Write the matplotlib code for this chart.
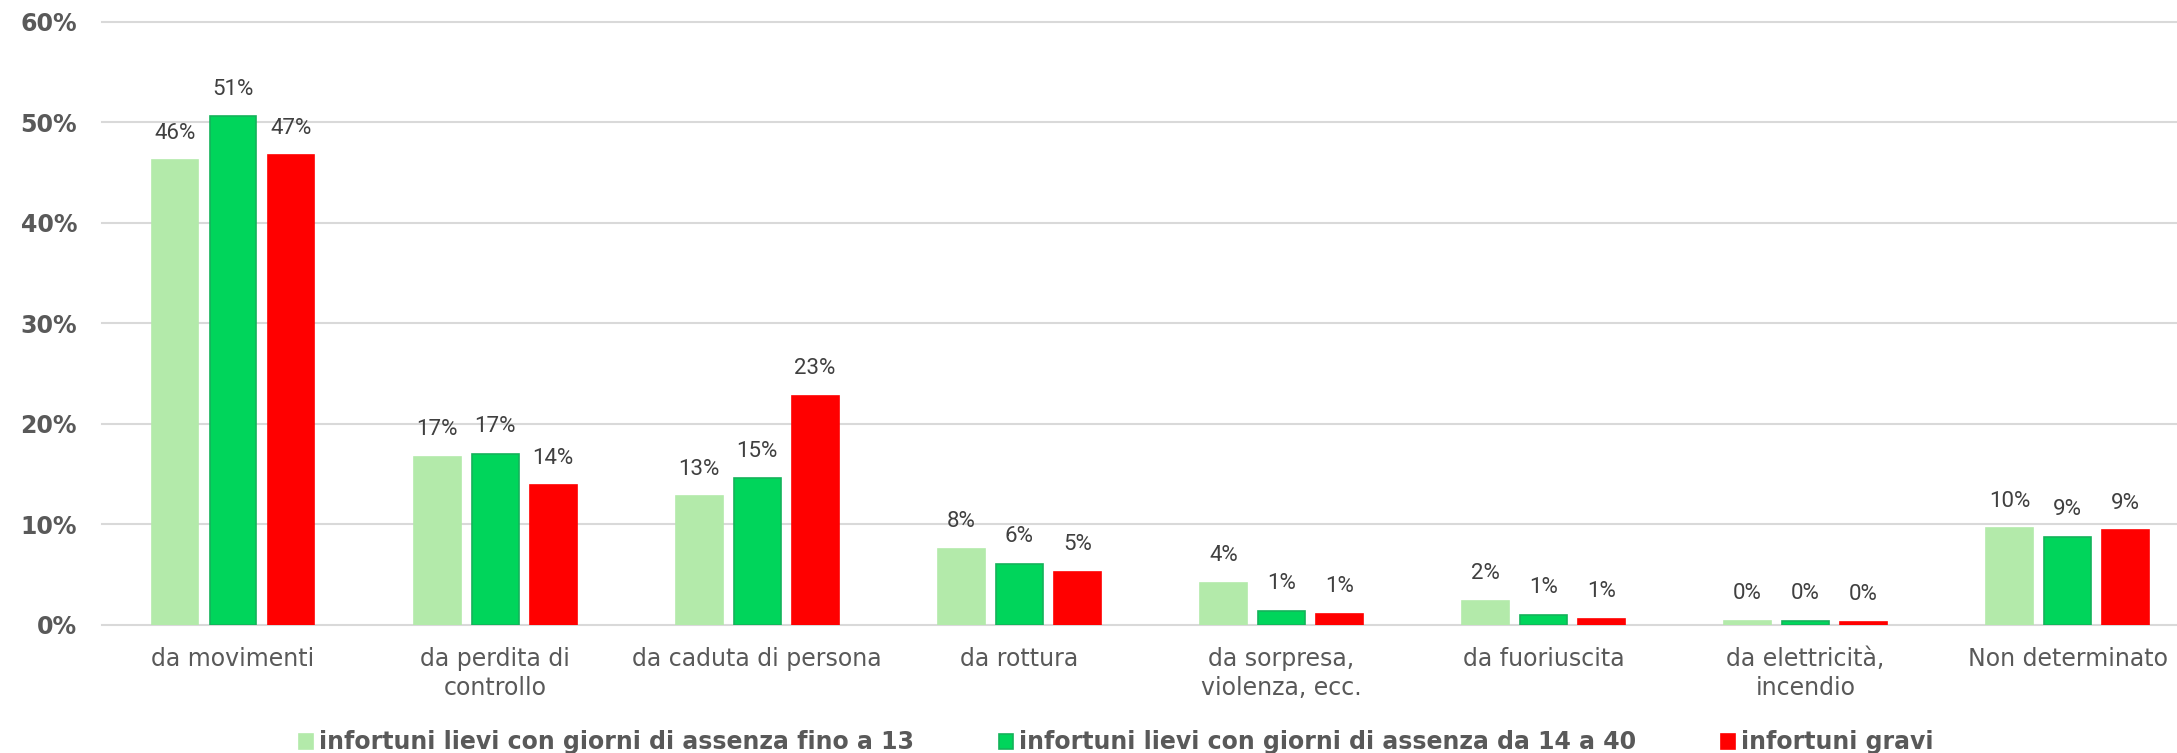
import matplotlib
matplotlib.use("Agg")
import matplotlib.pyplot as plt
from matplotlib.patches import Patch
import numpy as np

categories = ["da movimenti", "da perdita di\ncontrollo", "da caduta di persona", "da rottura",
              "da sorpresa,\nviolenza, ecc.", "da fuoriuscita", "da elettricità,\nincendio",
              "Non determinato"]
series_names = ["infortuni lievi con giorni di assenza fino a 13",
                "infortuni lievi con giorni di assenza da 14 a 40",
                "infortuni gravi"]
lievi_13 = [46.2, 16.7, 12.8, 7.6, 4.2, 2.4, 0.4, 9.6]
lievi_14_40 = [50.6, 17.0, 14.6, 6.1, 1.4, 1.0, 0.4, 8.8]
gravi = [46.7, 13.9, 22.8, 5.3, 1.1, 0.6, 0.3, 9.4]
yticks = [0, 10, 20, 30, 40, 50, 60]

face_colors = ["#B3EAAA", "#00D55B", "#FF0000"]
edge_colors = ["#B3EAAA", "#14B35A", "#FF0000"]

W, H = 2177, 753
fig = plt.figure(figsize=(W / 100, H / 100), dpi=100)
ax = fig.add_axes([102 / W, 128 / H, (W - 102) / W, (731.3 - 128) / H])

x = np.arange(len(categories))
step = 0.2213
width = 0.179
for i, vals in enumerate([lievi_13, lievi_14_40, gravi]):
    bars = ax.bar(x + (i - 1) * step, vals, width, color=face_colors[i],
                  edgecolor=edge_colors[i], linewidth=1.2, zorder=3)
    ax.bar_label(bars, labels=[f"{round(v)}%" for v in vals], padding=12,
                 fontsize=16, family=["Roboto", "DejaVu Sans"], color="#404040")

ax.set_xlim(-0.5, -0.5 + (W - 102) / 262.07)
ax.set_ylim(0, 60)
ax.set_yticks(yticks)
ax.set_yticklabels([f"{v}%" for v in yticks], fontsize=17, fontweight="bold",
                   color="#595959", family="DejaVu Sans")
ax.set_xticks(x)
ax.set_xticklabels(categories, fontsize=17, color="#595959", family="DejaVu Sans",
                   linespacing=1.27)
ax.tick_params(axis="y", length=0, pad=18)
ax.tick_params(axis="x", length=0, pad=16)
for s in ax.spines.values():
    s.set_visible(False)
ax.yaxis.grid(True, color="#D9D9D9", linewidth=1.5, zorder=0)
for gl in ax.get_ygridlines():
    gl.set_clip_on(False)
ax.set_axisbelow(True)

handles = [Patch(facecolor=face_colors[i], edgecolor=edge_colors[i], linewidth=1.2)
           for i in range(3)]
fig.legend(handles, series_names, loc="center", bbox_to_anchor=(1116.5 / W, 10.5 / H),
           ncol=3, frameon=False, prop=dict(weight="bold", size=17, family="DejaVu Sans"),
           handlelength=0.59, handleheight=0.59, handletextpad=0.25, columnspacing=3.6,
           labelcolor="#595959", borderpad=0, borderaxespad=0)

fig.savefig("out.png", dpi=100)
